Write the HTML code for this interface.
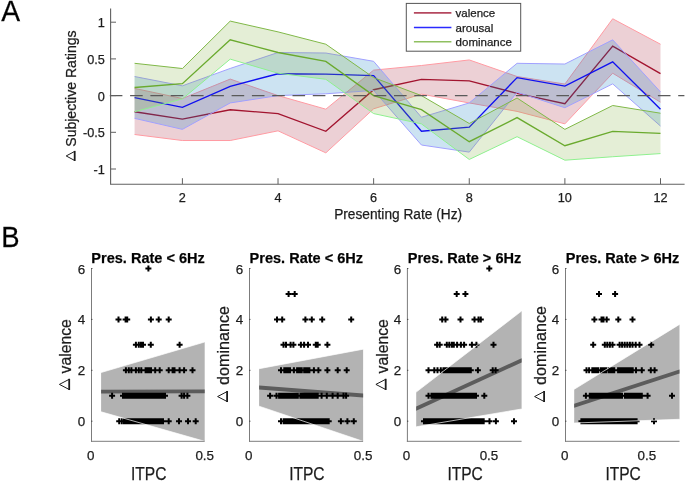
<!DOCTYPE html>
<html><head><meta charset="utf-8"><style>
html,body{margin:0;padding:0;background:#fff;overflow:hidden;width:685px;height:481px;}
svg{display:block;will-change:transform;}
text{font-family:"Liberation Sans",sans-serif;fill:#1c1c1c;stroke:#1c1c1c;stroke-width:0.25px;}
.tk{font-size:12.7px;}
.tkB{font-size:13.4px;}
.lbA{font-size:14px;}
.lbB{font-size:16.2px;}
.tt{font-size:15px;font-weight:bold;fill:#000;}
.lg{font-size:11.5px;}
.pl{font-size:27.5px;fill:#000;}
</style></head><body>
<svg width="685" height="481" viewBox="0 0 685 481">
<polygon points="134.59,88.41 182.40,98.54 230.21,79.08 278.02,95.60 325.83,109.18 373.64,70.13 421.45,65.51 469.26,59.93 517.07,76.52 564.88,84.08 612.69,18.75 660.50,44.22 660.50,102.21 612.69,73.21 564.88,123.86 517.07,111.38 469.26,102.94 421.45,94.13 373.64,108.81 325.83,152.85 278.02,130.83 230.21,140.52 182.40,140.52 134.59,134.50" fill="#A2142F" fill-opacity="0.2" stroke="none"/>
<polyline points="134.59,88.41 182.40,98.54 230.21,79.08 278.02,95.60 325.83,109.18 373.64,70.13 421.45,65.51 469.26,59.93 517.07,76.52 564.88,84.08 612.69,18.75 660.50,44.22" fill="none" stroke="#ff9aa2" stroke-width="1"/>
<polyline points="134.59,134.50 182.40,140.52 230.21,140.52 278.02,130.83 325.83,152.85 373.64,108.81 421.45,94.13 469.26,102.94 517.07,111.38 564.88,123.86 612.69,73.21 660.50,102.21" fill="none" stroke="#ff9aa2" stroke-width="1"/>
<polyline points="134.59,111.75 182.40,119.09 230.21,109.77 278.02,113.58 325.83,131.35 373.64,89.73 421.45,79.45 469.26,80.92 517.07,93.40 564.88,103.67 612.69,46.05 660.50,73.58" fill="none" stroke="#A2142F" stroke-width="1.35" stroke-linejoin="miter"/>
<polygon points="134.59,76.52 182.40,85.84 230.21,68.44 278.02,52.51 325.83,53.03 373.64,61.32 421.45,117.25 469.26,102.94 517.07,63.30 564.88,64.04 612.69,39.82 660.50,91.93 660.50,126.06 612.69,83.86 564.88,107.71 517.07,92.30 469.26,152.12 421.45,145.00 373.64,90.46 325.83,93.77 278.02,95.60 230.21,102.94 182.40,129.36 134.59,118.35" fill="#0072BD" fill-opacity="0.2" stroke="none"/>
<polyline points="134.59,76.52 182.40,85.84 230.21,68.44 278.02,52.51 325.83,53.03 373.64,61.32 421.45,117.25 469.26,102.94 517.07,63.30 564.88,64.04 612.69,39.82 660.50,91.93" fill="none" stroke="#a0a0ff" stroke-width="1"/>
<polyline points="134.59,118.35 182.40,129.36 230.21,102.94 278.02,95.60 325.83,93.77 373.64,90.46 421.45,145.00 469.26,152.12 517.07,92.30 564.88,107.71 612.69,83.86 660.50,126.06" fill="none" stroke="#a0a0ff" stroke-width="1"/>
<polyline points="134.59,97.66 182.40,107.34 230.21,86.28 278.02,73.73 325.83,74.09 373.64,75.64 421.45,131.20 469.26,127.16 517.07,77.62 564.88,86.06 612.69,61.84 660.50,109.18" fill="none" stroke="#1010f0" stroke-width="1.35" stroke-linejoin="miter"/>
<polygon points="134.59,63.30 182.40,68.52 230.21,21.10 278.02,31.89 325.83,44.22 373.64,77.62 421.45,95.60 469.26,123.49 517.07,98.02 564.88,129.36 612.69,105.51 660.50,113.22 660.50,153.59 612.69,156.74 564.88,160.19 517.07,136.70 469.26,159.46 421.45,123.86 373.64,113.58 325.83,79.31 278.02,73.21 230.21,59.12 182.40,98.90 134.59,111.75" fill="#77AC30" fill-opacity="0.2" stroke="none"/>
<polyline points="134.59,63.30 182.40,68.52 230.21,21.10 278.02,31.89 325.83,44.22 373.64,77.62 421.45,95.60 469.26,123.49 517.07,98.02 564.88,129.36 612.69,105.51 660.50,113.22" fill="none" stroke="#80b848" stroke-width="1"/>
<polyline points="134.59,111.75 182.40,98.90 230.21,59.12 278.02,73.21 325.83,79.31 373.64,113.58 421.45,123.86 469.26,159.46 517.07,136.70 564.88,160.19 612.69,156.74 660.50,153.59" fill="none" stroke="#8ef08e" stroke-width="1"/>
<polyline points="134.59,87.53 182.40,83.64 230.21,39.82 278.02,52.51 325.83,61.40 373.64,95.60 421.45,109.69 469.26,141.70 517.07,117.62 564.88,145.73 612.69,131.42 660.50,133.40" fill="none" stroke="#6aaa2e" stroke-width="1.35" stroke-linejoin="miter"/>
<line x1="109.8" y1="95.60" x2="684.4" y2="95.60" stroke="#5a5a5a" stroke-width="1.4" stroke-dasharray="12.6,7.7"/>
<line x1="110.6" y1="8.5" x2="110.6" y2="184.3" stroke="#606060" stroke-width="1.1"/>
<line x1="110.1" y1="184.2" x2="684.6" y2="184.2" stroke="#606060" stroke-width="1.1"/>
<line x1="110.6" y1="22.20" x2="116" y2="22.20" stroke="#606060" stroke-width="1"/>
<text x="104.9" y="27.20" text-anchor="end" class="tk">1</text>
<line x1="110.6" y1="58.90" x2="116" y2="58.90" stroke="#606060" stroke-width="1"/>
<text x="104.9" y="63.90" text-anchor="end" class="tk">0.5</text>
<line x1="110.6" y1="95.60" x2="116" y2="95.60" stroke="#606060" stroke-width="1"/>
<text x="104.9" y="100.60" text-anchor="end" class="tk">0</text>
<line x1="110.6" y1="132.30" x2="116" y2="132.30" stroke="#606060" stroke-width="1"/>
<text x="104.9" y="137.30" text-anchor="end" class="tk">-0.5</text>
<line x1="110.6" y1="169.00" x2="116" y2="169.00" stroke="#606060" stroke-width="1"/>
<text x="104.9" y="174.00" text-anchor="end" class="tk">-1</text>
<line x1="182.40" y1="184.2" x2="182.40" y2="178.2" stroke="#606060" stroke-width="1"/>
<text x="182.40" y="201.8" text-anchor="middle" class="tk">2</text>
<line x1="278.02" y1="184.2" x2="278.02" y2="178.2" stroke="#606060" stroke-width="1"/>
<text x="278.02" y="201.8" text-anchor="middle" class="tk">4</text>
<line x1="373.64" y1="184.2" x2="373.64" y2="178.2" stroke="#606060" stroke-width="1"/>
<text x="373.64" y="201.8" text-anchor="middle" class="tk">6</text>
<line x1="469.26" y1="184.2" x2="469.26" y2="178.2" stroke="#606060" stroke-width="1"/>
<text x="469.26" y="201.8" text-anchor="middle" class="tk">8</text>
<line x1="564.88" y1="184.2" x2="564.88" y2="178.2" stroke="#606060" stroke-width="1"/>
<text x="564.88" y="201.8" text-anchor="middle" class="tk">10</text>
<line x1="660.50" y1="184.2" x2="660.50" y2="178.2" stroke="#606060" stroke-width="1"/>
<text x="660.50" y="201.8" text-anchor="middle" class="tk">12</text>
<text x="398.1" y="218.9" text-anchor="middle" class="lbA" textLength="127.9" lengthAdjust="spacingAndGlyphs">Presenting Rate (Hz)</text>
<text transform="translate(76.3,88.6) rotate(-90)" x="0" y="0" text-anchor="middle" class="lbA" textLength="116.3" lengthAdjust="spacingAndGlyphs">Subjective Ratings</text>
<path d="M74.70 151.40L66.20 155.95L74.70 160.50" fill="none" stroke="#1c1c1c" stroke-width="1.0" stroke-linejoin="miter"/><line x1="74.70" y1="150.90" x2="74.70" y2="161.00" stroke="#1c1c1c" stroke-width="1.8"/>
<rect x="406.3" y="3.4" width="114.4" height="47.8" fill="#fff" stroke="#555" stroke-width="1"/>
<line x1="413.9" y1="12.9" x2="451.4" y2="12.9" stroke="#b5485f" stroke-width="1.6"/>
<text x="455.6" y="16.9" class="lg">valence</text>
<line x1="413.9" y1="27.5" x2="451.4" y2="27.5" stroke="#2a2aff" stroke-width="1.6"/>
<text x="455.6" y="31.5" class="lg">arousal</text>
<line x1="413.9" y1="41.7" x2="451.4" y2="41.7" stroke="#8fc060" stroke-width="1.6"/>
<text x="455.6" y="45.7" class="lg">dominance</text>
<text transform="translate(1.2,20.7) scale(1,1.04)" class="pl" style="font-size:28.3px">A</text>
<text transform="translate(1.2,246.8) scale(1,1.1)" class="pl">B</text>
<polygon points="101.1,372.5 204.7,342.0 204.7,441.3 101.1,411.8" fill="#b3b3b3"/>
<polygon points="101.1,389.80 204.7,389.50 204.7,393.30 101.1,393.60" fill="#5c5c5c"/>
<path d="M145.40 268.50h6M148.40 265.50v6M115.50 319.40h6M118.50 316.40v6M122.60 319.40h6M125.60 316.40v6M124.20 319.40h6M127.20 316.40v6M147.90 319.40h6M150.90 316.40v6M155.70 319.40h6M158.70 316.40v6M165.70 319.40h6M168.70 316.40v6M132.90 344.85h6M135.90 341.85v6M135.80 344.85h6M138.80 341.85v6M138.00 344.85h6M141.00 341.85v6M140.00 344.85h6M143.00 341.85v6M147.80 344.85h6M150.80 341.85v6M176.60 344.85h6M179.60 341.85v6M122.90 370.30h6M125.90 367.30v6M125.80 370.30h6M128.80 367.30v6M128.40 370.30h6M131.40 367.30v6M132.90 370.30h6M135.90 367.30v6M135.80 370.30h6M138.80 367.30v6M138.30 370.30h6M141.30 367.30v6M142.60 370.30h6M145.60 367.30v6M143.57 370.30h6M146.57 367.30v6M144.55 370.30h6M147.55 367.30v6M145.53 370.30h6M148.53 367.30v6M146.50 370.30h6M149.50 367.30v6M148.00 370.30h6M151.00 367.30v6M152.20 370.30h6M155.20 367.30v6M156.70 370.30h6M159.70 367.30v6M165.70 370.30h6M168.70 367.30v6M169.60 370.30h6M172.60 367.30v6M171.50 370.30h6M174.50 367.30v6M176.60 370.30h6M179.60 367.30v6M181.10 370.30h6M184.10 367.30v6M189.50 370.30h6M192.50 367.30v6M109.10 395.75h6M112.10 392.75v6M120.00 395.75h6M123.00 392.75v6M122.00 395.75h6M125.00 392.75v6M123.00 395.75h6M126.00 392.75v6M124.00 395.75h6M127.00 392.75v6M125.00 395.75h6M128.00 392.75v6M126.00 395.75h6M129.00 392.75v6M127.00 395.75h6M130.00 392.75v6M128.00 395.75h6M131.00 392.75v6M129.00 395.75h6M132.00 392.75v6M130.00 395.75h6M133.00 392.75v6M131.00 395.75h6M134.00 392.75v6M132.00 395.75h6M135.00 392.75v6M133.00 395.75h6M136.00 392.75v6M134.00 395.75h6M137.00 392.75v6M135.00 395.75h6M138.00 392.75v6M136.00 395.75h6M139.00 392.75v6M137.00 395.75h6M140.00 392.75v6M138.00 395.75h6M141.00 392.75v6M139.00 395.75h6M142.00 392.75v6M140.00 395.75h6M143.00 392.75v6M141.00 395.75h6M144.00 392.75v6M142.00 395.75h6M145.00 392.75v6M143.00 395.75h6M146.00 392.75v6M144.00 395.75h6M147.00 392.75v6M145.00 395.75h6M148.00 392.75v6M146.00 395.75h6M149.00 392.75v6M147.00 395.75h6M150.00 392.75v6M148.00 395.75h6M151.00 392.75v6M149.00 395.75h6M152.00 392.75v6M150.00 395.75h6M153.00 392.75v6M151.00 395.75h6M154.00 392.75v6M152.00 395.75h6M155.00 392.75v6M153.00 395.75h6M156.00 392.75v6M154.00 395.75h6M157.00 392.75v6M155.00 395.75h6M158.00 392.75v6M156.00 395.75h6M159.00 392.75v6M157.00 395.75h6M160.00 392.75v6M158.00 395.75h6M161.00 392.75v6M159.00 395.75h6M162.00 392.75v6M160.00 395.75h6M163.00 392.75v6M161.00 395.75h6M164.00 392.75v6M162.00 395.75h6M165.00 392.75v6M178.60 395.75h6M181.60 392.75v6M181.10 395.75h6M184.10 392.75v6M184.40 395.75h6M187.40 392.75v6M116.20 421.20h6M119.20 418.20v6M118.80 421.20h6M121.80 418.20v6M121.00 421.20h6M124.00 418.20v6M122.00 421.20h6M125.00 418.20v6M123.00 421.20h6M126.00 418.20v6M124.00 421.20h6M127.00 418.20v6M125.00 421.20h6M128.00 418.20v6M126.00 421.20h6M129.00 418.20v6M127.00 421.20h6M130.00 418.20v6M128.00 421.20h6M131.00 418.20v6M129.00 421.20h6M132.00 418.20v6M130.00 421.20h6M133.00 418.20v6M131.00 421.20h6M134.00 418.20v6M132.00 421.20h6M135.00 418.20v6M133.00 421.20h6M136.00 418.20v6M134.00 421.20h6M137.00 418.20v6M135.00 421.20h6M138.00 418.20v6M136.00 421.20h6M139.00 418.20v6M137.00 421.20h6M140.00 418.20v6M138.00 421.20h6M141.00 418.20v6M139.00 421.20h6M142.00 418.20v6M140.00 421.20h6M143.00 418.20v6M141.00 421.20h6M144.00 418.20v6M142.00 421.20h6M145.00 418.20v6M143.00 421.20h6M146.00 418.20v6M144.00 421.20h6M147.00 418.20v6M145.00 421.20h6M148.00 418.20v6M146.00 421.20h6M149.00 418.20v6M147.00 421.20h6M150.00 418.20v6M148.00 421.20h6M151.00 418.20v6M149.00 421.20h6M152.00 418.20v6M150.00 421.20h6M153.00 418.20v6M151.00 421.20h6M154.00 418.20v6M152.00 421.20h6M155.00 418.20v6M153.00 421.20h6M156.00 418.20v6M154.00 421.20h6M157.00 418.20v6M155.00 421.20h6M158.00 418.20v6M156.00 421.20h6M159.00 418.20v6M157.00 421.20h6M160.00 418.20v6M158.00 421.20h6M161.00 418.20v6M159.00 421.20h6M162.00 418.20v6M160.00 421.20h6M163.00 418.20v6M165.70 421.20h6M168.70 418.20v6M176.00 421.20h6M179.00 418.20v6M185.00 421.20h6M188.00 418.20v6M192.70 421.20h6M195.70 418.20v6" stroke="#000" stroke-width="2" fill="none"/>
<path d="M101.1 372.5L204.7 342.0M101.1 411.8L204.7 441.3" stroke="#fff" stroke-width="0.7" fill="none"/>
<line x1="91.5" y1="268.5" x2="91.5" y2="441.8" stroke="#7c7c7c" stroke-width="1"/>
<line x1="91.0" y1="441.3" x2="204.7" y2="441.3" stroke="#7c7c7c" stroke-width="1"/>
<line x1="91.3" y1="421.20" x2="92.4" y2="421.20" stroke="#333" stroke-width="1"/>
<text x="85.2" y="426.20" text-anchor="end" class="tkB">0</text>
<line x1="91.3" y1="370.30" x2="92.4" y2="370.30" stroke="#333" stroke-width="1"/>
<text x="85.2" y="375.30" text-anchor="end" class="tkB">2</text>
<line x1="91.3" y1="319.40" x2="92.4" y2="319.40" stroke="#333" stroke-width="1"/>
<text x="85.2" y="324.40" text-anchor="end" class="tkB">4</text>
<line x1="91.3" y1="268.50" x2="92.4" y2="268.50" stroke="#333" stroke-width="1"/>
<text x="85.2" y="273.50" text-anchor="end" class="tkB">6</text>
<text x="90.7" y="460" text-anchor="middle" class="tkB">0</text>
<text x="204.70" y="460" text-anchor="middle" class="tkB">0.5</text>
<text x="148.10" y="262.8" text-anchor="middle" class="tt" textLength="113.5" lengthAdjust="spacingAndGlyphs">Pres. Rate &lt; 6Hz</text>
<text x="148.70" y="479.5" text-anchor="middle" class="lbB" style="font-size:17.8px" textLength="35.4" lengthAdjust="spacingAndGlyphs">ITPC</text>
<text transform="translate(71.30,346.35) rotate(-90)" text-anchor="middle" class="lbB" textLength="54.3" lengthAdjust="spacingAndGlyphs">valence</text>
<path d="M69.20 379.30L59.40 384.40L69.20 389.50" fill="none" stroke="#1c1c1c" stroke-width="1.0" stroke-linejoin="miter"/><line x1="69.20" y1="378.80" x2="69.20" y2="390.00" stroke="#1c1c1c" stroke-width="1.8"/>
<polygon points="259.1,368.7 363.1,349.2 363.1,441.3 259.1,406.2" fill="#b3b3b3"/>
<polygon points="259.1,385.59 363.1,393.59 363.1,397.41 259.1,389.41" fill="#5c5c5c"/>
<path d="M285.60 293.95h6M288.60 290.95v6M291.70 293.95h6M294.70 290.95v6M274.00 319.40h6M277.00 316.40v6M279.20 319.40h6M282.20 316.40v6M302.40 319.40h6M305.40 316.40v6M308.80 319.40h6M311.80 316.40v6M319.20 319.40h6M322.20 316.40v6M348.20 319.40h6M351.20 316.40v6M280.50 344.85h6M283.50 341.85v6M283.00 344.85h6M286.00 341.85v6M287.60 344.85h6M290.60 341.85v6M290.40 344.85h6M293.40 341.85v6M297.90 344.85h6M300.90 341.85v6M301.10 344.85h6M304.10 341.85v6M305.00 344.85h6M308.00 341.85v6M312.80 344.85h6M315.80 341.85v6M314.70 344.85h6M317.70 341.85v6M324.40 344.85h6M327.40 341.85v6M278.00 370.30h6M281.00 367.30v6M281.30 370.30h6M284.30 367.30v6M282.25 370.30h6M285.25 367.30v6M283.20 370.30h6M286.20 367.30v6M284.15 370.30h6M287.15 367.30v6M285.10 370.30h6M288.10 367.30v6M286.05 370.30h6M289.05 367.30v6M287.00 370.30h6M290.00 367.30v6M290.90 370.30h6M293.90 367.30v6M294.10 370.30h6M297.10 367.30v6M295.02 370.30h6M298.02 367.30v6M295.94 370.30h6M298.94 367.30v6M296.86 370.30h6M299.86 367.30v6M297.78 370.30h6M300.78 367.30v6M298.70 370.30h6M301.70 367.30v6M301.20 370.30h6M304.20 367.30v6M302.24 370.30h6M305.24 367.30v6M303.28 370.30h6M306.28 367.30v6M304.32 370.30h6M307.32 367.30v6M305.36 370.30h6M308.36 367.30v6M306.40 370.30h6M309.40 367.30v6M310.90 370.30h6M313.90 367.30v6M315.40 370.30h6M318.40 367.30v6M324.40 370.30h6M327.40 367.30v6M334.70 370.30h6M337.70 367.30v6M343.70 370.30h6M346.70 367.30v6M267.10 395.75h6M270.10 392.75v6M273.50 395.75h6M276.50 392.75v6M276.10 395.75h6M279.10 392.75v6M277.08 395.75h6M280.08 392.75v6M278.07 395.75h6M281.07 392.75v6M279.05 395.75h6M282.05 392.75v6M280.04 395.75h6M283.04 392.75v6M281.02 395.75h6M284.02 392.75v6M282.01 395.75h6M285.01 392.75v6M282.99 395.75h6M285.99 392.75v6M283.97 395.75h6M286.97 392.75v6M284.96 395.75h6M287.96 392.75v6M285.94 395.75h6M288.94 392.75v6M286.93 395.75h6M289.93 392.75v6M287.91 395.75h6M290.91 392.75v6M288.89 395.75h6M291.89 392.75v6M289.88 395.75h6M292.88 392.75v6M290.86 395.75h6M293.86 392.75v6M291.85 395.75h6M294.85 392.75v6M292.83 395.75h6M295.83 392.75v6M293.82 395.75h6M296.82 392.75v6M294.80 395.75h6M297.80 392.75v6M297.40 395.75h6M300.40 392.75v6M298.42 395.75h6M301.42 392.75v6M299.44 395.75h6M302.44 392.75v6M300.45 395.75h6M303.45 392.75v6M301.47 395.75h6M304.47 392.75v6M302.49 395.75h6M305.49 392.75v6M303.51 395.75h6M306.51 392.75v6M304.52 395.75h6M307.52 392.75v6M305.54 395.75h6M308.54 392.75v6M306.56 395.75h6M309.56 392.75v6M307.58 395.75h6M310.58 392.75v6M308.59 395.75h6M311.59 392.75v6M309.61 395.75h6M312.61 392.75v6M310.63 395.75h6M313.63 392.75v6M311.65 395.75h6M314.65 392.75v6M312.66 395.75h6M315.66 392.75v6M313.68 395.75h6M316.68 392.75v6M314.70 395.75h6M317.70 392.75v6M318.60 395.75h6M321.60 392.75v6M323.80 395.75h6M326.80 392.75v6M329.60 395.75h6M332.60 392.75v6M334.70 395.75h6M337.70 392.75v6M340.50 395.75h6M343.50 392.75v6M343.10 395.75h6M346.10 392.75v6M278.00 421.20h6M281.00 418.20v6M280.60 421.20h6M283.60 418.20v6M281.60 421.20h6M284.60 418.20v6M282.60 421.20h6M285.60 418.20v6M283.61 421.20h6M286.61 418.20v6M284.61 421.20h6M287.61 418.20v6M285.61 421.20h6M288.61 418.20v6M286.61 421.20h6M289.61 418.20v6M287.62 421.20h6M290.62 418.20v6M288.62 421.20h6M291.62 418.20v6M289.62 421.20h6M292.62 418.20v6M290.62 421.20h6M293.62 418.20v6M291.62 421.20h6M294.62 418.20v6M292.63 421.20h6M295.63 418.20v6M293.63 421.20h6M296.63 418.20v6M294.63 421.20h6M297.63 418.20v6M295.63 421.20h6M298.63 418.20v6M296.64 421.20h6M299.64 418.20v6M297.64 421.20h6M300.64 418.20v6M298.64 421.20h6M301.64 418.20v6M299.64 421.20h6M302.64 418.20v6M300.64 421.20h6M303.64 418.20v6M301.65 421.20h6M304.65 418.20v6M302.65 421.20h6M305.65 418.20v6M303.65 421.20h6M306.65 418.20v6M304.65 421.20h6M307.65 418.20v6M305.66 421.20h6M308.66 418.20v6M306.66 421.20h6M309.66 418.20v6M307.66 421.20h6M310.66 418.20v6M308.66 421.20h6M311.66 418.20v6M309.66 421.20h6M312.66 418.20v6M310.67 421.20h6M313.67 418.20v6M311.67 421.20h6M314.67 418.20v6M312.67 421.20h6M315.67 418.20v6M313.67 421.20h6M316.67 418.20v6M314.68 421.20h6M317.68 418.20v6M315.68 421.20h6M318.68 418.20v6M316.68 421.20h6M319.68 418.20v6M317.68 421.20h6M320.68 418.20v6M318.68 421.20h6M321.68 418.20v6M319.69 421.20h6M322.69 418.20v6M320.69 421.20h6M323.69 418.20v6M321.69 421.20h6M324.69 418.20v6M322.69 421.20h6M325.69 418.20v6M323.70 421.20h6M326.70 418.20v6M324.70 421.20h6M327.70 418.20v6M325.70 421.20h6M328.70 418.20v6M337.90 421.20h6M340.90 418.20v6M344.40 421.20h6M347.40 418.20v6M350.80 421.20h6M353.80 418.20v6" stroke="#000" stroke-width="2" fill="none"/>
<path d="M259.1 368.7L363.1 349.2M259.1 406.2L363.1 441.3" stroke="#fff" stroke-width="0.7" fill="none"/>
<line x1="249.5" y1="268.5" x2="249.5" y2="441.8" stroke="#7c7c7c" stroke-width="1"/>
<line x1="249.0" y1="441.3" x2="363.1" y2="441.3" stroke="#7c7c7c" stroke-width="1"/>
<line x1="249.3" y1="421.20" x2="250.4" y2="421.20" stroke="#333" stroke-width="1"/>
<text x="243.2" y="426.20" text-anchor="end" class="tkB">0</text>
<line x1="249.3" y1="370.30" x2="250.4" y2="370.30" stroke="#333" stroke-width="1"/>
<text x="243.2" y="375.30" text-anchor="end" class="tkB">2</text>
<line x1="249.3" y1="319.40" x2="250.4" y2="319.40" stroke="#333" stroke-width="1"/>
<text x="243.2" y="324.40" text-anchor="end" class="tkB">4</text>
<line x1="249.3" y1="268.50" x2="250.4" y2="268.50" stroke="#333" stroke-width="1"/>
<text x="243.2" y="273.50" text-anchor="end" class="tkB">6</text>
<text x="248.7" y="460" text-anchor="middle" class="tkB">0</text>
<text x="363.10" y="460" text-anchor="middle" class="tkB">0.5</text>
<text x="306.30" y="262.8" text-anchor="middle" class="tt" textLength="113.5" lengthAdjust="spacingAndGlyphs">Pres. Rate &lt; 6Hz</text>
<text x="306.90" y="479.5" text-anchor="middle" class="lbB" style="font-size:17.8px" textLength="35.4" lengthAdjust="spacingAndGlyphs">ITPC</text>
<text transform="translate(229.30,345.5) rotate(-90)" text-anchor="middle" class="lbB" textLength="78.8" lengthAdjust="spacingAndGlyphs">dominance</text>
<path d="M227.10 391.60L217.60 396.55L227.10 401.50" fill="none" stroke="#1c1c1c" stroke-width="1.0" stroke-linejoin="miter"/><line x1="227.10" y1="391.10" x2="227.10" y2="402.00" stroke="#1c1c1c" stroke-width="1.8"/>
<polygon points="416.2,392.1 521.6,311.0 521.6,409.0 416.2,426.8" fill="#b3b3b3"/>
<polygon points="416.2,406.51 521.6,358.31 521.6,362.49 416.2,410.69" fill="#5c5c5c"/>
<path d="M486.30 268.50h6M489.30 265.50v6M453.70 293.95h6M456.70 290.95v6M462.40 293.95h6M465.40 290.95v6M439.20 319.40h6M442.20 316.40v6M442.50 319.40h6M445.50 316.40v6M457.50 319.40h6M460.50 316.40v6M471.50 319.40h6M474.50 316.40v6M475.50 319.40h6M478.50 316.40v6M477.80 319.40h6M480.80 316.40v6M434.10 344.85h6M437.10 341.85v6M436.70 344.85h6M439.70 341.85v6M443.80 344.85h6M446.80 341.85v6M446.30 344.85h6M449.30 341.85v6M448.90 344.85h6M451.90 341.85v6M450.80 344.85h6M453.80 341.85v6M454.10 344.85h6M457.10 341.85v6M457.90 344.85h6M460.90 341.85v6M461.10 344.85h6M464.10 341.85v6M468.90 344.85h6M471.90 341.85v6M473.40 344.85h6M476.40 341.85v6M490.50 344.85h6M493.50 341.85v6M425.50 370.30h6M428.50 367.30v6M431.30 370.30h6M434.30 367.30v6M434.50 370.30h6M437.50 367.30v6M437.80 370.30h6M440.80 367.30v6M440.40 370.30h6M443.40 367.30v6M441.38 370.30h6M444.38 367.30v6M442.36 370.30h6M445.36 367.30v6M443.34 370.30h6M446.34 367.30v6M444.32 370.30h6M447.32 367.30v6M445.30 370.30h6M448.30 367.30v6M446.28 370.30h6M449.28 367.30v6M447.27 370.30h6M450.27 367.30v6M448.25 370.30h6M451.25 367.30v6M449.23 370.30h6M452.23 367.30v6M450.21 370.30h6M453.21 367.30v6M451.19 370.30h6M454.19 367.30v6M452.17 370.30h6M455.17 367.30v6M453.15 370.30h6M456.15 367.30v6M454.13 370.30h6M457.13 367.30v6M455.11 370.30h6M458.11 367.30v6M456.09 370.30h6M459.09 367.30v6M457.07 370.30h6M460.07 367.30v6M458.05 370.30h6M461.05 367.30v6M459.03 370.30h6M462.03 367.30v6M460.02 370.30h6M463.02 367.30v6M461.00 370.30h6M464.00 367.30v6M461.98 370.30h6M464.98 367.30v6M462.96 370.30h6M465.96 367.30v6M463.94 370.30h6M466.94 367.30v6M464.92 370.30h6M467.92 367.30v6M465.90 370.30h6M468.90 367.30v6M467.80 370.30h6M470.80 367.30v6M474.90 370.30h6M477.90 367.30v6M489.70 370.30h6M492.70 367.30v6M492.60 370.30h6M495.60 367.30v6M425.50 395.75h6M428.50 392.75v6M428.50 395.75h6M431.50 392.75v6M429.51 395.75h6M432.51 392.75v6M430.52 395.75h6M433.52 392.75v6M431.53 395.75h6M434.53 392.75v6M432.55 395.75h6M435.55 392.75v6M433.56 395.75h6M436.56 392.75v6M434.57 395.75h6M437.57 392.75v6M435.58 395.75h6M438.58 392.75v6M436.59 395.75h6M439.59 392.75v6M437.60 395.75h6M440.60 392.75v6M438.61 395.75h6M441.61 392.75v6M439.62 395.75h6M442.62 392.75v6M440.64 395.75h6M443.64 392.75v6M441.65 395.75h6M444.65 392.75v6M442.66 395.75h6M445.66 392.75v6M443.67 395.75h6M446.67 392.75v6M444.68 395.75h6M447.68 392.75v6M445.69 395.75h6M448.69 392.75v6M446.70 395.75h6M449.70 392.75v6M447.72 395.75h6M450.72 392.75v6M448.73 395.75h6M451.73 392.75v6M449.74 395.75h6M452.74 392.75v6M450.75 395.75h6M453.75 392.75v6M451.76 395.75h6M454.76 392.75v6M452.77 395.75h6M455.77 392.75v6M453.78 395.75h6M456.78 392.75v6M454.80 395.75h6M457.80 392.75v6M455.81 395.75h6M458.81 392.75v6M456.82 395.75h6M459.82 392.75v6M457.83 395.75h6M460.83 392.75v6M458.84 395.75h6M461.84 392.75v6M459.85 395.75h6M462.85 392.75v6M460.86 395.75h6M463.86 392.75v6M461.88 395.75h6M464.88 392.75v6M462.89 395.75h6M465.89 392.75v6M463.90 395.75h6M466.90 392.75v6M464.91 395.75h6M467.91 392.75v6M465.92 395.75h6M468.92 392.75v6M466.93 395.75h6M469.93 392.75v6M467.94 395.75h6M470.94 392.75v6M468.95 395.75h6M471.95 392.75v6M469.97 395.75h6M472.97 392.75v6M470.98 395.75h6M473.98 392.75v6M471.99 395.75h6M474.99 392.75v6M473.00 395.75h6M476.00 392.75v6M481.30 395.75h6M484.30 392.75v6M421.00 421.20h6M424.00 418.20v6M423.00 421.20h6M426.00 418.20v6M423.99 421.20h6M426.99 418.20v6M424.99 421.20h6M427.99 418.20v6M425.98 421.20h6M428.98 418.20v6M426.98 421.20h6M429.98 418.20v6M427.97 421.20h6M430.97 418.20v6M428.97 421.20h6M431.97 418.20v6M429.96 421.20h6M432.96 418.20v6M430.96 421.20h6M433.96 418.20v6M431.95 421.20h6M434.95 418.20v6M432.95 421.20h6M435.95 418.20v6M433.94 421.20h6M436.94 418.20v6M434.94 421.20h6M437.94 418.20v6M435.93 421.20h6M438.93 418.20v6M436.93 421.20h6M439.93 418.20v6M437.92 421.20h6M440.92 418.20v6M438.92 421.20h6M441.92 418.20v6M439.91 421.20h6M442.91 418.20v6M440.91 421.20h6M443.91 418.20v6M441.90 421.20h6M444.90 418.20v6M442.90 421.20h6M445.90 418.20v6M443.89 421.20h6M446.89 418.20v6M444.89 421.20h6M447.89 418.20v6M445.88 421.20h6M448.88 418.20v6M446.88 421.20h6M449.88 418.20v6M447.87 421.20h6M450.87 418.20v6M448.87 421.20h6M451.87 418.20v6M449.86 421.20h6M452.86 418.20v6M450.86 421.20h6M453.86 418.20v6M451.85 421.20h6M454.85 418.20v6M452.84 421.20h6M455.84 418.20v6M453.84 421.20h6M456.84 418.20v6M454.83 421.20h6M457.83 418.20v6M455.83 421.20h6M458.83 418.20v6M456.82 421.20h6M459.82 418.20v6M457.82 421.20h6M460.82 418.20v6M458.81 421.20h6M461.81 418.20v6M459.81 421.20h6M462.81 418.20v6M460.80 421.20h6M463.80 418.20v6M461.80 421.20h6M464.80 418.20v6M462.79 421.20h6M465.79 418.20v6M463.79 421.20h6M466.79 418.20v6M464.78 421.20h6M467.78 418.20v6M465.78 421.20h6M468.78 418.20v6M466.77 421.20h6M469.77 418.20v6M467.77 421.20h6M470.77 418.20v6M468.76 421.20h6M471.76 418.20v6M469.76 421.20h6M472.76 418.20v6M470.75 421.20h6M473.75 418.20v6M471.75 421.20h6M474.75 418.20v6M472.74 421.20h6M475.74 418.20v6M473.74 421.20h6M476.74 418.20v6M474.73 421.20h6M477.73 418.20v6M475.73 421.20h6M478.73 418.20v6M476.72 421.20h6M479.72 418.20v6M477.72 421.20h6M480.72 418.20v6M478.71 421.20h6M481.71 418.20v6M479.71 421.20h6M482.71 418.20v6M480.70 421.20h6M483.70 418.20v6M486.50 421.20h6M489.50 418.20v6M492.90 421.20h6M495.90 418.20v6M511.00 421.20h6M514.00 418.20v6" stroke="#000" stroke-width="2" fill="none"/>
<path d="M416.2 392.1L521.6 311.0M416.2 426.8L521.6 409.0" stroke="#fff" stroke-width="0.7" fill="none"/>
<line x1="407.4" y1="268.5" x2="407.4" y2="441.8" stroke="#7c7c7c" stroke-width="1"/>
<line x1="406.9" y1="441.3" x2="521.6" y2="441.3" stroke="#7c7c7c" stroke-width="1"/>
<line x1="407.2" y1="421.20" x2="408.29999999999995" y2="421.20" stroke="#333" stroke-width="1"/>
<text x="401.09999999999997" y="426.20" text-anchor="end" class="tkB">0</text>
<line x1="407.2" y1="370.30" x2="408.29999999999995" y2="370.30" stroke="#333" stroke-width="1"/>
<text x="401.09999999999997" y="375.30" text-anchor="end" class="tkB">2</text>
<line x1="407.2" y1="319.40" x2="408.29999999999995" y2="319.40" stroke="#333" stroke-width="1"/>
<text x="401.09999999999997" y="324.40" text-anchor="end" class="tkB">4</text>
<line x1="407.2" y1="268.50" x2="408.29999999999995" y2="268.50" stroke="#333" stroke-width="1"/>
<text x="401.09999999999997" y="273.50" text-anchor="end" class="tkB">6</text>
<text x="406.59999999999997" y="460" text-anchor="middle" class="tkB">0</text>
<text x="488.97" y="460" text-anchor="middle" class="tkB">0.5</text>
<text x="464.50" y="262.8" text-anchor="middle" class="tt" textLength="113.5" lengthAdjust="spacingAndGlyphs">Pres. Rate &gt; 6Hz</text>
<text x="465.10" y="479.5" text-anchor="middle" class="lbB" style="font-size:17.8px" textLength="35.4" lengthAdjust="spacingAndGlyphs">ITPC</text>
<text transform="translate(387.80,346.35) rotate(-90)" text-anchor="middle" class="lbB" textLength="54.3" lengthAdjust="spacingAndGlyphs">valence</text>
<path d="M385.70 379.30L375.90 384.40L385.70 389.50" fill="none" stroke="#1c1c1c" stroke-width="1.0" stroke-linejoin="miter"/><line x1="385.70" y1="378.80" x2="385.70" y2="390.00" stroke="#1c1c1c" stroke-width="1.8"/>
<polygon points="574.2,389.3 679.5,324.4 679.5,419.3 574.2,423.0" fill="#b3b3b3"/>
<polygon points="574.2,403.80 679.5,369.50 679.5,373.50 574.2,407.80" fill="#5c5c5c"/>
<path d="M596.00 293.95h6M599.00 290.95v6M612.10 293.95h6M615.10 290.95v6M591.40 319.40h6M594.40 316.40v6M598.50 319.40h6M601.50 316.40v6M600.50 319.40h6M603.50 316.40v6M603.70 319.40h6M606.70 316.40v6M615.30 319.40h6M618.30 316.40v6M629.50 319.40h6M632.50 316.40v6M590.20 344.85h6M593.20 341.85v6M601.80 344.85h6M604.80 341.85v6M604.30 344.85h6M607.30 341.85v6M606.90 344.85h6M609.90 341.85v6M609.50 344.85h6M612.50 341.85v6M616.60 344.85h6M619.60 341.85v6M619.10 344.85h6M622.10 341.85v6M621.70 344.85h6M624.70 341.85v6M624.30 344.85h6M627.30 341.85v6M626.90 344.85h6M629.90 341.85v6M629.50 344.85h6M632.50 341.85v6M632.70 344.85h6M635.70 341.85v6M636.50 344.85h6M639.50 341.85v6M648.20 344.85h6M651.20 341.85v6M583.50 370.30h6M586.50 367.30v6M586.10 370.30h6M589.10 367.30v6M589.30 370.30h6M592.30 367.30v6M590.27 370.30h6M593.27 367.30v6M591.23 370.30h6M594.23 367.30v6M592.20 370.30h6M595.20 367.30v6M593.17 370.30h6M596.17 367.30v6M594.13 370.30h6M597.13 367.30v6M595.10 370.30h6M598.10 367.30v6M597.70 370.30h6M600.70 367.30v6M598.67 370.30h6M601.67 367.30v6M599.63 370.30h6M602.63 367.30v6M600.60 370.30h6M603.60 367.30v6M601.57 370.30h6M604.57 367.30v6M602.53 370.30h6M605.53 367.30v6M603.50 370.30h6M606.50 367.30v6M606.00 370.30h6M609.00 367.30v6M607.04 370.30h6M610.04 367.30v6M608.08 370.30h6M611.08 367.30v6M609.12 370.30h6M612.12 367.30v6M610.16 370.30h6M613.16 367.30v6M611.20 370.30h6M614.20 367.30v6M615.10 370.30h6M618.10 367.30v6M616.06 370.30h6M619.06 367.30v6M617.02 370.30h6M620.02 367.30v6M617.99 370.30h6M620.99 367.30v6M618.95 370.30h6M621.95 367.30v6M619.91 370.30h6M622.91 367.30v6M620.88 370.30h6M623.88 367.30v6M621.84 370.30h6M624.84 367.30v6M622.80 370.30h6M625.80 367.30v6M622.00 370.30h6M625.00 367.30v6M622.96 370.30h6M625.96 367.30v6M623.92 370.30h6M626.92 367.30v6M624.89 370.30h6M627.89 367.30v6M625.85 370.30h6M628.85 367.30v6M626.81 370.30h6M629.81 367.30v6M627.78 370.30h6M630.78 367.30v6M628.74 370.30h6M631.74 367.30v6M629.70 370.30h6M632.70 367.30v6M633.00 370.30h6M636.00 367.30v6M638.80 370.30h6M641.80 367.30v6M647.80 370.30h6M650.80 367.30v6M651.60 370.30h6M654.60 367.30v6M582.90 395.75h6M585.90 392.75v6M586.80 395.75h6M589.80 392.75v6M587.80 395.75h6M590.80 392.75v6M588.79 395.75h6M591.79 392.75v6M589.79 395.75h6M592.79 392.75v6M590.79 395.75h6M593.79 392.75v6M591.78 395.75h6M594.78 392.75v6M592.78 395.75h6M595.78 392.75v6M593.78 395.75h6M596.78 392.75v6M594.77 395.75h6M597.77 392.75v6M595.77 395.75h6M598.77 392.75v6M596.77 395.75h6M599.77 392.75v6M597.76 395.75h6M600.76 392.75v6M598.76 395.75h6M601.76 392.75v6M599.76 395.75h6M602.76 392.75v6M600.75 395.75h6M603.75 392.75v6M601.75 395.75h6M604.75 392.75v6M602.75 395.75h6M605.75 392.75v6M603.75 395.75h6M606.75 392.75v6M604.74 395.75h6M607.74 392.75v6M605.74 395.75h6M608.74 392.75v6M606.74 395.75h6M609.74 392.75v6M607.73 395.75h6M610.73 392.75v6M608.73 395.75h6M611.73 392.75v6M609.73 395.75h6M612.73 392.75v6M610.72 395.75h6M613.72 392.75v6M611.72 395.75h6M614.72 392.75v6M612.72 395.75h6M615.72 392.75v6M613.71 395.75h6M616.71 392.75v6M614.71 395.75h6M617.71 392.75v6M615.71 395.75h6M618.71 392.75v6M616.70 395.75h6M619.70 392.75v6M617.70 395.75h6M620.70 392.75v6M619.00 395.75h6M622.00 392.75v6M622.80 395.75h6M625.80 392.75v6M622.00 395.75h6M625.00 392.75v6M622.99 395.75h6M625.99 392.75v6M623.98 395.75h6M626.98 392.75v6M624.96 395.75h6M627.96 392.75v6M625.95 395.75h6M628.95 392.75v6M626.94 395.75h6M629.94 392.75v6M627.93 395.75h6M630.93 392.75v6M628.92 395.75h6M631.92 392.75v6M629.91 395.75h6M632.91 392.75v6M630.89 395.75h6M633.89 392.75v6M631.88 395.75h6M634.88 392.75v6M632.87 395.75h6M635.87 392.75v6M633.86 395.75h6M636.86 392.75v6M634.85 395.75h6M637.85 392.75v6M635.84 395.75h6M638.84 392.75v6M636.82 395.75h6M639.82 392.75v6M637.81 395.75h6M640.81 392.75v6M638.80 395.75h6M641.80 392.75v6M644.60 395.75h6M647.60 392.75v6M669.00 395.75h6M672.00 392.75v6M578.40 421.20h6M581.40 418.20v6M580.30 421.20h6M583.30 418.20v6M581.31 421.20h6M584.31 418.20v6M582.31 421.20h6M585.31 418.20v6M583.32 421.20h6M586.32 418.20v6M584.32 421.20h6M587.32 418.20v6M585.33 421.20h6M588.33 418.20v6M586.33 421.20h6M589.33 418.20v6M587.34 421.20h6M590.34 418.20v6M588.35 421.20h6M591.35 418.20v6M589.35 421.20h6M592.35 418.20v6M590.36 421.20h6M593.36 418.20v6M591.36 421.20h6M594.36 418.20v6M592.37 421.20h6M595.37 418.20v6M593.37 421.20h6M596.37 418.20v6M594.38 421.20h6M597.38 418.20v6M595.38 421.20h6M598.38 418.20v6M596.39 421.20h6M599.39 418.20v6M597.40 421.20h6M600.40 418.20v6M598.40 421.20h6M601.40 418.20v6M599.41 421.20h6M602.41 418.20v6M600.41 421.20h6M603.41 418.20v6M601.42 421.20h6M604.42 418.20v6M602.42 421.20h6M605.42 418.20v6M603.43 421.20h6M606.43 418.20v6M604.44 421.20h6M607.44 418.20v6M605.44 421.20h6M608.44 418.20v6M606.45 421.20h6M609.45 418.20v6M607.45 421.20h6M610.45 418.20v6M608.46 421.20h6M611.46 418.20v6M609.46 421.20h6M612.46 418.20v6M610.47 421.20h6M613.47 418.20v6M611.48 421.20h6M614.48 418.20v6M612.48 421.20h6M615.48 418.20v6M613.49 421.20h6M616.49 418.20v6M614.49 421.20h6M617.49 418.20v6M615.50 421.20h6M618.50 418.20v6M616.50 421.20h6M619.50 418.20v6M617.51 421.20h6M620.51 418.20v6M618.52 421.20h6M621.52 418.20v6M619.52 421.20h6M622.52 418.20v6M620.53 421.20h6M623.53 418.20v6M621.53 421.20h6M624.53 418.20v6M622.54 421.20h6M625.54 418.20v6M623.54 421.20h6M626.54 418.20v6M624.55 421.20h6M627.55 418.20v6M625.55 421.20h6M628.55 418.20v6M626.56 421.20h6M629.56 418.20v6M627.57 421.20h6M630.57 418.20v6M628.57 421.20h6M631.57 418.20v6M629.58 421.20h6M632.58 418.20v6M630.58 421.20h6M633.58 418.20v6M631.59 421.20h6M634.59 418.20v6M632.59 421.20h6M635.59 418.20v6M633.60 421.20h6M636.60 418.20v6M651.00 421.20h6M654.00 418.20v6" stroke="#000" stroke-width="2" fill="none"/>
<path d="M574.2 389.3L679.5 324.4M574.2 423.0L679.5 419.3" stroke="#fff" stroke-width="0.7" fill="none"/>
<line x1="565.5" y1="268.5" x2="565.5" y2="441.8" stroke="#7c7c7c" stroke-width="1"/>
<line x1="565.0" y1="441.3" x2="679.5" y2="441.3" stroke="#7c7c7c" stroke-width="1"/>
<line x1="565.3" y1="421.20" x2="566.4" y2="421.20" stroke="#333" stroke-width="1"/>
<text x="559.2" y="426.20" text-anchor="end" class="tkB">0</text>
<line x1="565.3" y1="370.30" x2="566.4" y2="370.30" stroke="#333" stroke-width="1"/>
<text x="559.2" y="375.30" text-anchor="end" class="tkB">2</text>
<line x1="565.3" y1="319.40" x2="566.4" y2="319.40" stroke="#333" stroke-width="1"/>
<text x="559.2" y="324.40" text-anchor="end" class="tkB">4</text>
<line x1="565.3" y1="268.50" x2="566.4" y2="268.50" stroke="#333" stroke-width="1"/>
<text x="559.2" y="273.50" text-anchor="end" class="tkB">6</text>
<text x="564.7" y="460" text-anchor="middle" class="tkB">0</text>
<text x="646.93" y="460" text-anchor="middle" class="tkB">0.5</text>
<text x="622.50" y="262.8" text-anchor="middle" class="tt" textLength="113.5" lengthAdjust="spacingAndGlyphs">Pres. Rate &gt; 6Hz</text>
<text x="623.10" y="479.5" text-anchor="middle" class="lbB" style="font-size:17.8px" textLength="35.4" lengthAdjust="spacingAndGlyphs">ITPC</text>
<text transform="translate(546.30,345.5) rotate(-90)" text-anchor="middle" class="lbB" textLength="78.8" lengthAdjust="spacingAndGlyphs">dominance</text>
<path d="M544.10 391.60L534.60 396.55L544.10 401.50" fill="none" stroke="#1c1c1c" stroke-width="1.0" stroke-linejoin="miter"/><line x1="544.10" y1="391.10" x2="544.10" y2="402.00" stroke="#1c1c1c" stroke-width="1.8"/>
</svg>
</body></html>
